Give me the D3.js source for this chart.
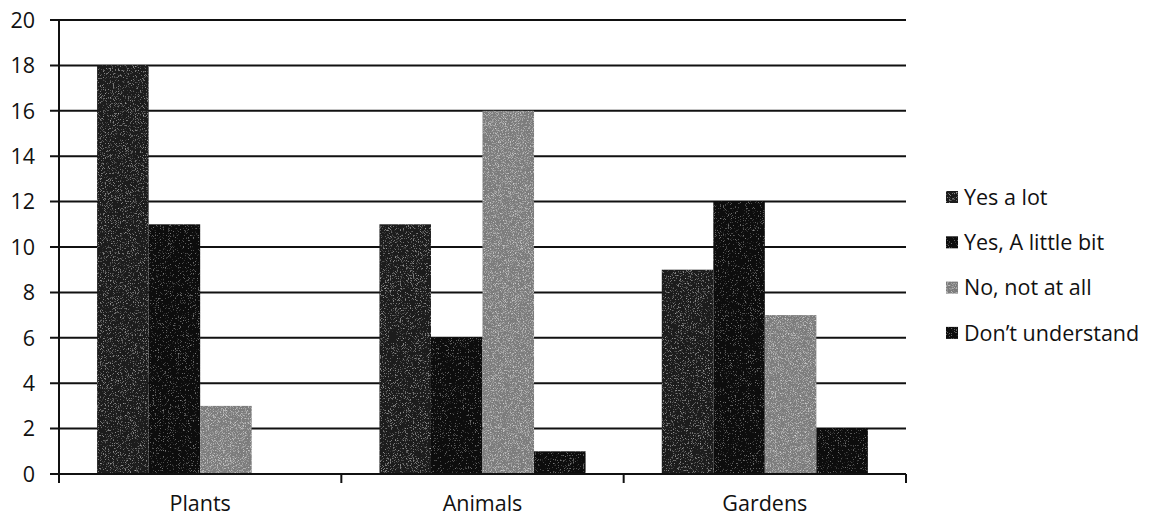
<!DOCTYPE html>
<html>
<head>
<meta charset="utf-8">
<script src="https://cdn.jsdelivr.net/npm/d3@7"></script>
<style>
  body { margin: 0; background: #fff; }
  text { font-family: "Open Sans", Lato, sans-serif; fill: #111; }
</style>
</head>
<body>
<div id="vis"></div>
<script>
const categories = ["Plants", "Animals", "Gardens"];
const seriesNames = ["Yes a lot", "Yes, A little bit", "No, not at all", "Don\u2019t understand"];
const yesALot = [18, 11, 9];
const yesALittle = [11, 6, 12];
const noNotAtAll = [3, 16, 7];
const dontUnderstand = [0, 1, 2];
const yTicks = [0, 2, 4, 6, 8, 10, 12, 14, 16, 18, 20];

const seriesValues = [yesALot, yesALittle, noNotAtAll, dontUnderstand];
const colors = ["#1c1c1c", "#0e0e0e", "#7c7c7c", "#0a0a0a"];
const speckle = ["sparse", "faint", "heavy", "faint"];

const W = 1151, H = 518;
const plot = { left: 59, right: 906, top: 20, bottom: 474 };
const fontSize = "21.5px";

const svg = d3.select("#vis")
  .append("svg")
  .attr("width", W)
  .attr("height", H);

// speckle filters to imitate the scanned texture
const defs = svg.append("defs");
function makeNoise(id, grey, slope, offset) {
  const f = defs.append("filter").attr("id", id).attr("x", 0).attr("y", 0).attr("width", 1).attr("height", 1);
  f.append("feTurbulence").attr("type", "fractalNoise").attr("baseFrequency", 1.4).attr("numOctaves", 1).attr("result", "t");
  f.append("feColorMatrix").attr("in", "t").attr("type", "matrix")
    .attr("values", `0 0 0 0 ${grey}  0 0 0 0 ${grey}  0 0 0 0 ${grey}  0 0 0 ${slope} ${offset}`).attr("result", "spk");
  f.append("feComposite").attr("in", "spk").attr("in2", "SourceGraphic").attr("operator", "in").attr("result", "spk2");
  const m = f.append("feMerge");
  m.append("feMergeNode").attr("in", "SourceGraphic");
  m.append("feMergeNode").attr("in", "spk2");
}
makeNoise("sparse", 0.5, -3, 1.3);
makeNoise("faint", 0.35, -3, 1.2);
makeNoise("heavy", 0.95, -2, 1.0);

const x0 = d3.scaleBand()
  .domain(categories)
  .range([plot.left, plot.right])
  .paddingInner(0.27)
  .paddingOuter(0.135);

const x1 = d3.scaleBand()
  .domain(d3.range(seriesNames.length))
  .range([0, x0.bandwidth()]);

const y = d3.scaleLinear()
  .domain([0, 20])
  .range([plot.bottom, plot.top]);

// gridlines
svg.append("g")
  .selectAll("line")
  .data(yTicks)
  .join("line")
  .attr("x1", 50)
  .attr("x2", plot.right)
  .attr("y1", d => y(d))
  .attr("y2", d => y(d))
  .attr("stroke", "#111")
  .attr("stroke-width", 2);

// y tick labels
svg.append("g")
  .selectAll("text")
  .data(yTicks)
  .join("text")
  .attr("x", 35)
  .attr("y", d => y(d))
  .attr("dy", "0.36em")
  .attr("text-anchor", "end")
  .attr("font-size", fontSize)
  .text(d => d);

// bars
categories.forEach((cat, ci) => {
  seriesValues.forEach((vals, si) => {
    if (vals[ci] <= 0) return;
    svg.append("rect")
      .attr("x", x0(cat) + x1(si))
      .attr("y", y(vals[ci]))
      .attr("width", x1.bandwidth())
      .attr("height", y(0) - y(vals[ci]))
      .attr("fill", colors[si])
      .attr("filter", `url(#${speckle[si]})`);
  });
});

// axes lines
svg.append("line")
  .attr("x1", plot.left).attr("x2", plot.left)
  .attr("y1", plot.top).attr("y2", plot.bottom + 9)
  .attr("stroke", "#111").attr("stroke-width", 2);

svg.append("line")
  .attr("x1", plot.left).attr("x2", plot.right)
  .attr("y1", plot.bottom).attr("y2", plot.bottom)
  .attr("stroke", "#111").attr("stroke-width", 2);

// category ticks
const catEdges = categories.map(c => x0(c) + x0.bandwidth() + x0.step() * x0.paddingInner() / 2);
svg.append("g")
  .selectAll("line")
  .data(catEdges)
  .join("line")
  .attr("x1", d => d).attr("x2", d => d)
  .attr("y1", plot.bottom).attr("y2", plot.bottom + 9)
  .attr("stroke", "#111").attr("stroke-width", 2);

// category labels
svg.append("g")
  .selectAll("text")
  .data(categories)
  .join("text")
  .attr("x", d => x0(d) + x0.bandwidth() / 2)
  .attr("y", 503)
  .attr("dy", "0.36em")
  .attr("text-anchor", "middle")
  .attr("font-size", fontSize)
  .text(d => d);

// legend
const legend = svg.append("g").attr("transform", "translate(946, 197)");
seriesNames.forEach((name, i) => {
  legend.append("rect")
    .attr("x", 0)
    .attr("y", i * 45.3 - 6)
    .attr("width", 12)
    .attr("height", 12)
    .attr("fill", colors[i])
    .attr("filter", `url(#${speckle[i]})`);
  legend.append("text")
    .attr("x", 18)
    .attr("y", i * 45.3)
    .attr("dy", "0.36em")
    .attr("font-size", fontSize)
    .text(name);
});
</script>
</body>
</html>
